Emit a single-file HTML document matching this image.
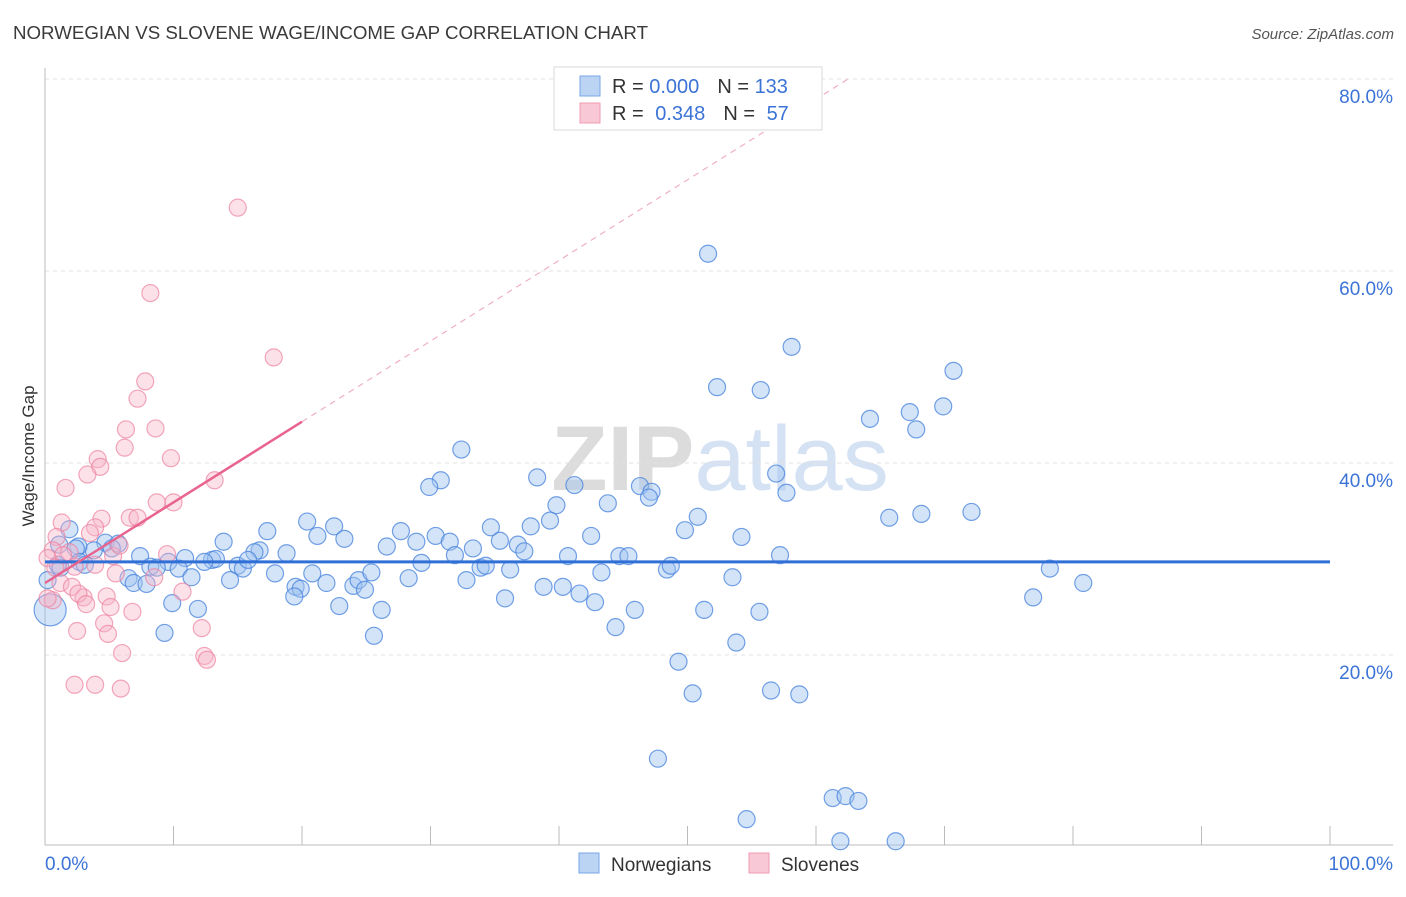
<!DOCTYPE html>
<html><head><meta charset="utf-8"><style>
body{margin:0;background:#fff;font-family:"Liberation Sans",sans-serif;}
svg text{font-family:"Liberation Sans",sans-serif;}
</style></head><body>
<svg id="chart" width="1406" height="892" viewBox="0 0 1406 892" xmlns="http://www.w3.org/2000/svg">
<text x="13" y="39" font-size="18" fill="#3a3a3a" textLength="635" lengthAdjust="spacingAndGlyphs">NORWEGIAN VS SLOVENE WAGE/INCOME GAP CORRELATION CHART</text>
<text x="1394" y="39" font-size="15" fill="#555" text-anchor="end" font-style="italic">Source: ZipAtlas.com</text>
<text x="720" y="490" font-size="92" fill="#e4e4e4" text-anchor="middle" font-family="Liberation Serif"><tspan font-weight="bold" fill="#dcdcdc">ZIP</tspan><tspan fill="#d4e2f4" font-family="Liberation Sans">atlas</tspan></text>
<g id="grid"></g>
<g id="axes"></g>
<g id="blue"></g>
<g id="pink"></g>
<g id="trends"></g>
<text transform="translate(34,456) rotate(-90)" font-size="17" fill="#333" text-anchor="middle">Wage/Income Gap</text>
<g>
<rect x="554" y="67" width="268" height="63" fill="#fff" stroke="#d8d8d8"/>
<rect x="580" y="76" width="20" height="20" fill="#bcd4f4" stroke="#7aa6e6"/>
<rect x="580" y="103" width="20" height="20" fill="#f9c8d6" stroke="#ee9bb3"/>
<text x="612" y="93" font-size="20" fill="#333">R = <tspan fill="#3b73d6">0.000</tspan><tspan dx="18">N = </tspan><tspan fill="#3b73d6">133</tspan></text>
<text x="612" y="120" font-size="20" fill="#333">R = <tspan fill="#3b73d6" dx="6">0.348</tspan><tspan dx="18">N = </tspan><tspan fill="#3b73d6" dx="6">57</tspan></text>
</g>
<g>
<rect x="579" y="853" width="20" height="20" fill="#bcd4f4" stroke="#7aa6e6"/>
<text x="611" y="871" font-size="19" fill="#333">Norwegians</text>
<rect x="749" y="853" width="20" height="20" fill="#f9c8d6" stroke="#ee9bb3"/>
<text x="781" y="871" font-size="19" fill="#333">Slovenes</text>
</g>
</svg>
<script>
const yTicks=[20,40,60,80];
const yTickLabels=["20.0%","40.0%","60.0%","80.0%"];
const xTicks=[0,10,20,30,40,50,60,70,80,90,100];
const xEndLabels=["0.0%","100.0%"];
const blueX=[51.6,58.1,52.3,55.7,70.7,67.3,69.9,64.2,67.8,32.4,30.8,29.9,38.3,41.2,39.8,46.3,47.2,47.0,43.8,56.9,57.7,50.8,49.8,54.2,65.7,68.2,72.1,20.4,22.5,17.3,23.3,21.2,27.7,26.6,28.9,30.4,31.5,33.3,34.7,35.4,36.8,37.3,37.8,39.3,42.5,40.7,44.7,45.4,57.2,13.9,16.7,16.3,18.8,13.0,13.3,12.4,10.9,9.6,7.4,8.2,8.7,10.4,11.4,15.0,15.4,15.8,17.9,19.5,20.8,21.9,24.0,24.4,24.9,25.4,28.3,29.3,31.9,32.8,33.9,34.3,36.2,35.8,38.8,40.3,41.6,42.8,43.3,44.4,45.9,48.4,48.7,51.3,53.5,55.6,53.8,49.3,50.4,56.5,58.7,47.7,78.2,80.8,76.9,26.2,25.6,19.9,19.4,22.9,14.4,11.9,9.9,9.3,6.5,6.9,7.9,4.7,5.7,5.2,3.8,2.6,1.9,2.4,2.7,3.1,1.1,1.0,1.2,0.2,54.6,61.3,62.3,63.3,61.9,66.2,0.4];
const blueY=[61.8,52.1,47.9,47.6,49.6,45.3,45.9,44.6,43.5,41.4,38.2,37.5,38.5,37.7,35.6,37.6,37.0,36.4,35.8,38.9,36.9,34.4,33.0,32.3,34.3,34.7,34.9,33.9,33.4,32.9,32.1,32.4,32.9,31.3,31.8,32.4,31.8,31.1,33.3,31.9,31.5,30.8,33.4,34.0,32.4,30.3,30.3,30.3,30.4,31.8,30.9,30.7,30.6,29.9,30.0,29.7,30.1,29.7,30.3,29.2,29.1,29.0,28.1,29.3,29.0,29.9,28.5,27.1,28.5,27.5,27.2,27.8,26.8,28.6,28.0,29.6,30.4,27.8,29.1,29.3,28.9,25.9,27.1,27.1,26.4,25.5,28.6,22.9,24.7,28.9,29.3,24.7,28.1,24.5,21.3,19.3,16.0,16.3,15.9,9.2,29.0,27.5,26.0,24.7,22.0,26.9,26.1,25.1,27.8,24.8,25.4,22.3,28.0,27.5,27.4,31.7,31.6,31.1,30.9,31.3,33.1,31.1,29.7,29.4,31.5,29.4,29.1,27.8,2.9,5.1,5.3,4.8,0.6,0.6,24.7];
const pinkX=[15.0,8.2,17.8,7.8,7.2,6.3,8.6,6.2,4.1,4.3,3.3,9.8,13.2,1.6,8.7,10.0,4.4,6.6,7.2,1.3,3.9,3.5,0.9,0.6,1.9,1.4,0.2,0.8,9.5,5.3,5.8,2.3,3.9,5.5,8.5,1.2,2.1,0.6,3.0,4.8,2.6,3.2,5.1,6.8,4.6,12.2,2.5,4.9,6.0,12.4,12.6,2.3,3.9,5.9,10.7,0.2];
const pinkY=[66.6,57.7,51.0,48.5,46.7,43.5,43.6,41.6,40.4,39.6,38.8,40.5,38.2,37.4,35.9,35.9,34.2,34.3,34.3,33.8,33.3,32.7,32.3,30.9,30.7,30.4,30.1,29.1,30.5,30.3,31.4,29.2,29.4,28.5,28.1,27.5,27.1,25.7,26.0,26.1,26.4,25.3,25.0,24.5,23.3,22.8,22.5,22.2,20.2,19.9,19.5,16.9,16.9,16.5,26.6,25.9];
const blueTrend=[29.7,29.7];
const pinkTrend=[27.5,0.84];
const NS='http://www.w3.org/2000/svg';
const X0=45,X1=1330,Y0=847,Y80=79;
function xs(v){return X0+(X1-X0)*v/100;}
function ys(v){return Y0-(Y0-Y80)*v/80;}
function mk(tag,attrs,parent){const e=document.createElementNS(NS,tag);for(const k in attrs)e.setAttribute(k,attrs[k]);document.getElementById(parent).appendChild(e);return e;}
yTicks.forEach((t,i)=>{
  const l=mk('line',{x1:X0,x2:1393,y1:ys(t),y2:ys(t),stroke:'#e2e2e2','stroke-dasharray':'4,4'},'grid');
  
  
  const tx=mk('text',{x:1393,y:ys(t)+24,'font-size':19,fill:'#3b73d6','text-anchor':'end'},'axes');
  tx.textContent=yTickLabels[i];
  
  
});
const ax=mk('line',{x1:X0,x2:1393,y1:845,y2:845,stroke:'#bbb'},'axes');


const ay=mk('line',{x1:X0,x2:X0,y1:68,y2:845,stroke:'#bbb'},'axes');


xTicks.forEach(t=>{
  const l=mk('line',{x1:xs(t),x2:xs(t),y1:826,y2:845,stroke:'#bbb'},'axes');
  
  
});
const xl0=mk('text',{x:45,y:870,'font-size':19,fill:'#3b73d6'},'axes');xl0.textContent=xEndLabels[0];


const xl1=mk('text',{x:1393,y:870,'font-size':19,fill:'#3b73d6','text-anchor':'end'},'axes');xl1.textContent=xEndLabels[1];


blueX.forEach((v,i)=>{
  const big=i===blueX.length-1;
  const c=mk('circle',{cx:xs(v),cy:ys(blueY[i]),r:big?16:8.5,fill:'rgba(160,196,240,0.45)',stroke:'rgba(70,130,220,0.75)','stroke-width':1.2},'blue');
  
  
});
pinkX.forEach((v,i)=>{
  const c=mk('circle',{cx:xs(v),cy:ys(pinkY[i]),r:8.5,fill:'rgba(248,180,200,0.4)',stroke:'rgba(236,130,160,0.7)','stroke-width':1.2},'pink');
  
  
});
const bt=mk('line',{x1:xs(0),x2:xs(100),y1:ys(blueTrend[0]),y2:ys(blueTrend[1]),stroke:'#2f6fd6','stroke-width':3},'trends');


const pEnd=(80-pinkTrend[0])/pinkTrend[1];
const pd=mk('line',{x1:xs(20),x2:xs(pEnd),y1:ys(pinkTrend[0]+pinkTrend[1]*20),y2:ys(80),stroke:'#eeb0c2','stroke-width':1.2,'stroke-dasharray':'6,5'},'trends');


const pt=mk('line',{x1:xs(0),x2:xs(20),y1:ys(pinkTrend[0]),y2:ys(pinkTrend[0]+pinkTrend[1]*20),stroke:'#e8648f','stroke-width':2.5},'trends');


</script>
</body></html>
